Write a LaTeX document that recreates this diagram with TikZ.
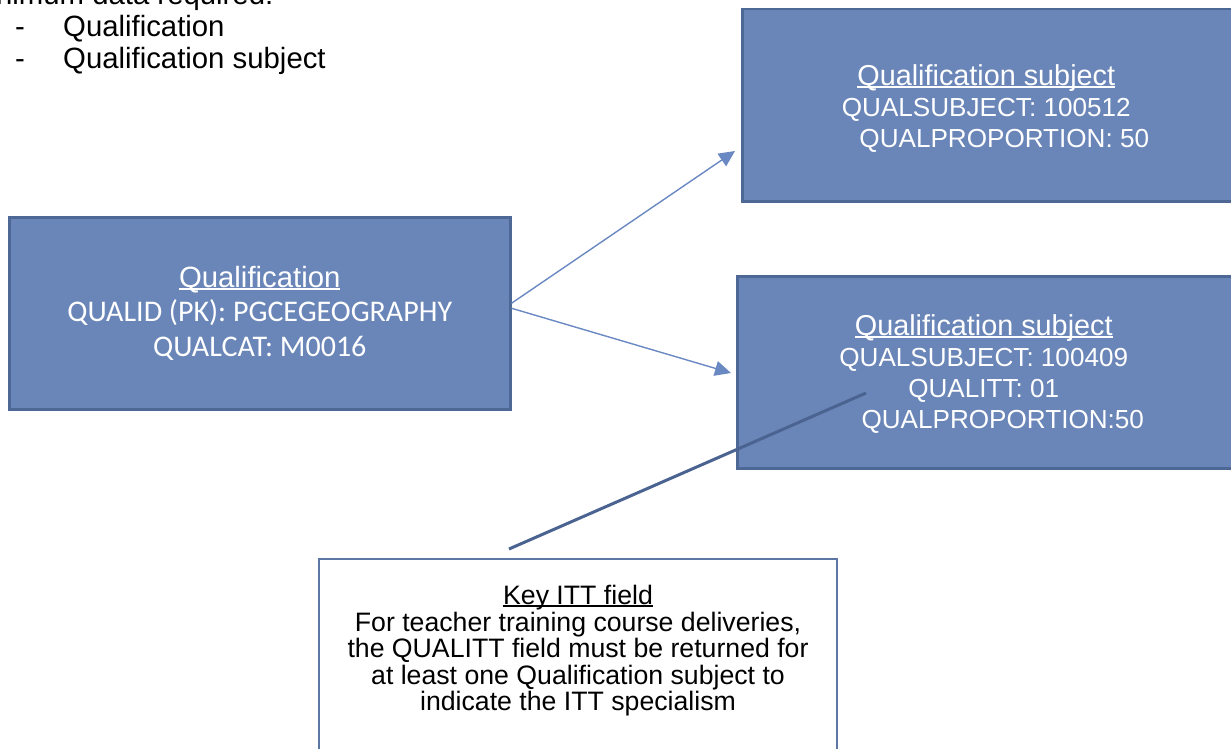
\documentclass[tikz,border=0pt]{standalone}
\usepackage{fontspec}
\setmainfont{Liberation Sans}
\newfontfamily\calibrifont{Carlito}
\usetikzlibrary{positioning,arrows.meta}

\definecolor{entityfill}{HTML}{6A86B8}
\definecolor{entityedge}{HTML}{4D6894}
\definecolor{linkblue}{HTML}{6A89C2}
\definecolor{notedark}{HTML}{4A6391}
\definecolor{noteedge}{HTML}{5C76A6}

\newcommand{\qualfont}{\fontsize{29.33}{31}\selectfont}
\newcommand{\headfont}{\fontsize{28.8}{31}\selectfont}
\newcommand{\fieldfont}{\fontsize{26.1}{31}\selectfont}
\newcommand{\notefont}{\fontsize{26.67}{26.6}\selectfont}
\newcommand{\ulword}[1]{\setbox0\hbox{#1}\rlap{\rule[-0.1em]{\wd0}{0.065em}}\box0}

\begin{document}
\begin{tikzpicture}[x=1pt,y=-1pt,
    entity/.style={draw=entityedge,line width=2.5pt,fill=entityfill,text=white,
                   font=\qualfont,align=center,inner sep=0pt,anchor=north west,
                   minimum height=192pt},
    fields/.style={text=white,font=\headfont,align=center,inner sep=0pt},
    link/.style={draw=linkblue,line width=1.4pt,-{Triangle[length=16pt,width=15pt]}},
    listitem/.style={anchor=base west,inner sep=0pt,font=\qualfont}]
  \useasboundingbox (0,0) rectangle (1231,749);
  \clip (0,0) rectangle (1231,749);

  % heading, cut at the top of the page
  \node[listitem] (head) at (-35,5) {Minimum data required:};
  \node[listitem] (item1) at (15,36.7) {\makebox[48pt][l]{-}Qualification};
  \node[listitem] (item2) at (15,68.3) {\makebox[48pt][l]{-}Qualification subject};

  \node[entity,minimum width=501pt] (qual) at (8,216)
    {\ulword{Qualification}\\[3pt]
     {\calibrifont\fontsize{30}{31}\selectfont QUALID (PK): PGCEGEOGRAPHY}\\[4pt]
     {\calibrifont\fontsize{30}{31}\selectfont QUALCAT: M0016}};

  \node[entity,minimum width=492pt] (subjA) at (741,8) {};
  \node[fields,below=56pt of subjA.north,xshift=-2pt] (subjAtext)
    {\ulword{Qualification subject}\\
     {\fieldfont QUALSUBJECT: 100512}\\
     {\fieldfont\hspace*{36pt}QUALPROPORTION: 50}};

  \node[entity,minimum width=497pt] (subjB) at (736,275) {};
  \node[fields,below=39pt of subjB.north,xshift=-2pt] (subjBtext)
    {\ulword{Qualification subject}\\
     {\fieldfont QUALSUBJECT: 100409}\\
     {\fieldfont QUALITT: 01}\\
     {\fieldfont\hspace*{38pt}QUALPROPORTION:50}};

  % note box runs off the bottom
  \node[draw=noteedge,line width=2pt,fill=white,anchor=north west,
        minimum width=518pt,minimum height=240pt] (key) at (318,558) {};
  \node[font=\notefont,align=center,inner sep=0pt,below=27pt of key.north] (keytext)
    {\ulword{Key ITT field}\\
     For teacher training course deliveries,\\
     the QUALITT field must be returned for\\
     at least one Qualification subject to\\
     indicate the ITT specialism};

  \coordinate (tipA) at (735,151);
  \coordinate (tipB) at (731,373);
  \coordinate (keystart) at (509,549);
  \coordinate (keyend) at (866,393);

  \draw[link] ([yshift=10pt]qual.east) -- (tipA);
  \draw[link] ([yshift=5pt]qual.east) -- (tipB);
  \draw[notedark,line width=3pt] (keystart) -- (keyend);
\end{tikzpicture}
\end{document}
